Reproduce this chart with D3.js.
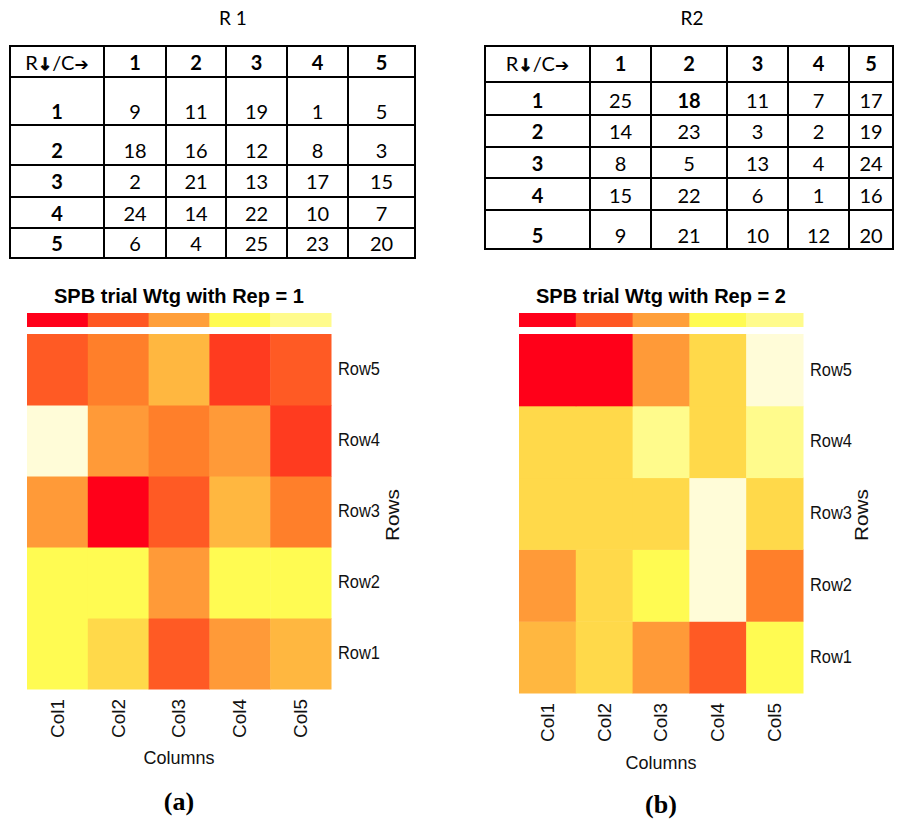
<!DOCTYPE html>
<html><head><meta charset="utf-8">
<script src="https://cdn.jsdelivr.net/npm/d3@7"></script>
<style>body{margin:0;background:#fff}svg{display:block}</style>
</head><body>
<script>
// ---------- data ----------
const tableCols = ["1","2","3","4","5"];
const tableRows = ["1","2","3","4","5"];
const tableR1 = [[9,11,19,1,5],[18,16,12,8,3],[2,21,13,17,15],[24,14,22,10,7],[6,4,25,23,20]];
const tableR2 = [[25,18,11,7,17],[14,23,3,2,19],[8,5,13,4,24],[15,22,6,1,16],[9,21,10,12,20]];
const boldR2 = [[0,1]];
const heatCols = ["Col1","Col2","Col3","Col4","Col5"];
const heatRows = ["Row1","Row2","Row3","Row4","Row5"];
// colour level (1 = red ... 10 = cream) per cell, rows Row1..Row5
const heat1 = [[8,7,3,5,6],[8,8,5,8,8],[5,1,3,6,4],[10,5,4,5,2],[3,4,6,2,3]];
const heat2 = [[6,7,5,3,8],[5,7,8,10,4],[7,7,7,10,7],[7,7,9,7,9],[1,1,5,7,10]];
const levels = d3.range(1,11);
const palette = ["#FF0019","#FF3B1F","#FF5A24","#FF7F2A","#FF9A38","#FFB740","#FFD94A","#FFFB52","#FFFB8C","#FFFCD8"];
const legendColors = ["#FF0019","#FF5722","#FF9F3A","#FFFB52","#FFFB8C"];
const titles = ["SPB trial Wtg with Rep = 1","SPB trial Wtg with Rep = 2"];
const tableTitles = ["R 1","R2"];
const captions = ["(a)","(b)"];

const W=899,H=819;
const svg=d3.select("body").append("svg").attr("width",W).attr("height",H);
svg.append("rect").attr("width",W).attr("height",H).attr("fill","#fff");
const SANS="'Liberation Sans', Arial, sans-serif";
const TFONT="Lato, Carlito, sans-serif";

// ---------- tables ----------
function drawTable(cfg){
  const g=svg.append("g");
  g.append("text").attr("x",cfg.titleX).attr("y",25).attr("text-anchor","middle")
   .attr("font-family",TFONT).attr("font-size",19).text(cfg.title);
  const xs=cfg.xs, ys=cfg.ys;
  xs.forEach(x=>g.append("line").attr("x1",x).attr("x2",x).attr("y1",ys[0]-1).attr("y2",ys[ys.length-1]+1).attr("stroke","#000").attr("stroke-width",2));
  ys.forEach(y=>g.append("line").attr("y1",y).attr("y2",y).attr("x1",xs[0]-1).attr("x2",xs[xs.length-1]+1).attr("stroke","#000").attr("stroke-width",2));
  const cx=i=>(xs[i]+xs[i+1])/2;
  const h=g.append("text").attr("x",cx(0)).attr("y",cfg.base[0]).attr("text-anchor","middle").attr("font-family",TFONT).attr("font-size",20);
  h.append("tspan").text("R");
  h.append("tspan").attr("font-weight","bold").attr("font-family","DejaVu Sans").attr("font-size",17).attr("stroke","#000").attr("stroke-width",0.8).text("\u2193");
  h.append("tspan").text("/C");
  h.append("tspan").attr("font-weight","bold").attr("font-family","DejaVu Sans").attr("font-size",17).text("\u2794");
  tableCols.forEach((c,j)=>g.append("text").attr("x",cx(j+1)).attr("y",cfg.base[0]).attr("text-anchor","middle").attr("font-family",TFONT).attr("font-size",20).attr("font-weight","bold").text(c));
  tableRows.forEach((r,i)=>{
    g.append("text").attr("x",cx(0)).attr("y",cfg.base[i+1]).attr("text-anchor","middle").attr("font-family",TFONT).attr("font-size",20).attr("font-weight","bold").text(r);
    cfg.data[i].forEach((v,j)=>{
      const b=cfg.bold.some(p=>p[0]===i&&p[1]===j);
      g.append("text").attr("x",cx(j+1)).attr("y",cfg.base[i+1]).attr("text-anchor","middle").attr("font-family",TFONT).attr("font-size",20).attr("font-weight",b?"bold":"normal").text(v);
    });
  });
}
drawTable({title:tableTitles[0],titleX:233,xs:[10,104,166,226,287,348,415],ys:[46,77,125,165,197,228,258],base:[70,119,158,189,221,251],data:tableR1,bold:[]});
drawTable({title:tableTitles[1],titleX:692,xs:[485,590,651,727,788,849,893],ys:[46,82,115,147,178,210,249],base:[71,108,139,171,203,243],data:tableR2,bold:boldR2});

// ---------- heatmaps ----------
const color=d3.scaleOrdinal().domain(levels).range(palette);
function drawHeat(cfg){
  const g=svg.append("g");
  const x=d3.scaleBand().domain(heatCols).range([cfg.x0,cfg.x1]);
  const y=d3.scaleBand().domain(heatRows.slice().reverse()).range([cfg.y0,cfg.y1]);
  const cx=(cfg.x0+cfg.x1)/2;
  g.append("text").attr("x",cx).attr("y",303).attr("text-anchor","middle").attr("font-family",SANS).attr("font-weight","bold").attr("font-size",20.5)
    .attr("textLength",250).attr("lengthAdjust","spacingAndGlyphs").text(cfg.title);
  const lx=d3.scaleBand().domain(d3.range(legendColors.length)).range([cfg.x0,cfg.x1]);
  g.selectAll(".lg").data(legendColors).join("rect").attr("x",(d,i)=>lx(i)).attr("y",313).attr("width",lx.bandwidth()+0.5).attr("height",14).attr("fill",d=>d);
  const cells=[];
  cfg.data.forEach((row,i)=>row.forEach((v,j)=>cells.push({r:heatRows[i],c:heatCols[j],v})));
  g.selectAll(".cell").data(cells).join("rect").attr("x",d=>x(d.c)).attr("y",d=>y(d.r)).attr("width",x.bandwidth()+0.5).attr("height",y.bandwidth()+0.5).attr("fill",d=>color(d.v));
  const ya=g.append("g").attr("transform",`translate(${cfg.x1},0)`).call(d3.axisRight(y).tickSize(0).tickPadding(7));
  ya.select(".domain").remove();
  ya.selectAll("text").attr("font-family",SANS).attr("font-size",18).attr("fill","#111")
    .attr("textLength",42).attr("lengthAdjust","spacingAndGlyphs");
  const xa=g.append("g").attr("transform",`translate(0,${cfg.y1})`).call(d3.axisBottom(x).tickSize(0));
  xa.select(".domain").remove();
  xa.selectAll("text").attr("font-family",SANS).attr("font-size",18).attr("fill","#111")
    .attr("textLength",39).attr("lengthAdjust","spacingAndGlyphs")
    .attr("transform","rotate(-90)").attr("text-anchor","end").attr("x",-cfg.colGap).attr("y",0).attr("dy","0.36em");
  g.append("text").attr("x",cx).attr("y",cfg.colTitleY).attr("text-anchor","middle").attr("font-family",SANS).attr("font-size",19).attr("fill","#111")
    .attr("textLength",71).attr("lengthAdjust","spacingAndGlyphs").text("Columns");
  g.append("text").attr("transform",`translate(${cfg.rowsX},515) rotate(-90)`).attr("text-anchor","middle").attr("font-family",SANS).attr("font-size",19).attr("fill","#111")
    .attr("textLength",52).attr("lengthAdjust","spacingAndGlyphs").text("Rows");
  g.append("text").attr("x",cx).attr("y",cfg.capY).attr("text-anchor","middle").attr("font-family","'Liberation Serif', 'Times New Roman', serif").attr("font-weight","bold").attr("font-size",26).text(cfg.caption);
}
drawHeat({title:titles[0],caption:captions[0],data:heat1,x0:27,x1:331,y0:334,y1:689,colGap:10,colTitleY:764,rowsX:399,capY:810});
drawHeat({title:titles[1],caption:captions[1],data:heat2,x0:519,x1:803,y0:334,y1:693,colGap:10,colTitleY:769,rowsX:868,capY:813});
</script>
</body></html>
